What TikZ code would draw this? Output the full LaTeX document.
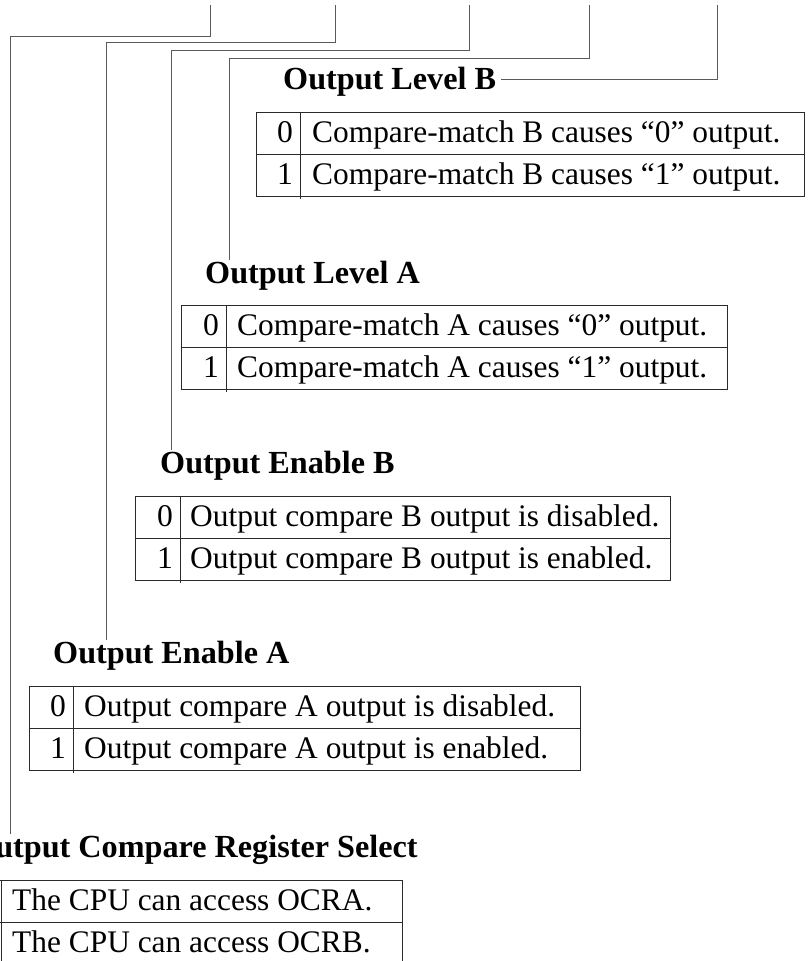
\documentclass[tikz,border=0pt]{standalone}
\usepackage{fontspec}
\setmainfont{Liberation Serif}
\usepackage{xcolor}
\usepackage{tikz}
\definecolor{regwire}{HTML}{5A5A5A}
\definecolor{regrule}{HTML}{2A2A2A}

\begin{document}
\begin{tikzpicture}[x=1pt,y=-1pt,
  wire/.style={regwire,line width=1pt},
  tblrule/.style={regrule,line width=1pt},
  fieldhead/.style={anchor=base west,inner sep=0pt,font=\fontsize{32.2}{38}\selectfont\bfseries},
  bitval/.style={anchor=base east,inner sep=0pt,font=\fontsize{31.6}{38}\selectfont},
  bitdesc/.style={anchor=base west,inner sep=0pt,font=\fontsize{31.4}{38}\selectfont}]
  \useasboundingbox (0,0) rectangle (811,961);
  \clip (0,0) rectangle (811,961);

  \node[fieldhead] (olb) at (283,89) {Output Level B};
  \draw[tblrule] (256,112) rectangle (804,196) (256,154) -- (804,154) (300,112) -- (300,199);
  \node[bitval] (lb0) at (293,142) {0};
  \node[bitdesc] (lb0t) at (312,142) {Compare-match B causes “0” output.};
  \node[bitval] (lb1) at (293,184) {1};
  \node[bitdesc] (lb1t) at (312,184) {Compare-match B causes “1” output.};

  \node[fieldhead] (ola) at (205,283) {Output Level A};
  \draw[tblrule] (181,305) rectangle (727,389) (181,347) -- (727,347) (226,305) -- (226,392);
  \node[bitval] (la0) at (219,335) {0};
  \node[bitdesc] (la0t) at (237,335) {Compare-match A causes “0” output.};
  \node[bitval] (la1) at (219,377) {1};
  \node[bitdesc] (la1t) at (237,377) {Compare-match A causes “1” output.};

  \node[fieldhead] (oeb) at (160,473) {Output Enable B};
  \draw[tblrule] (135,496) rectangle (670,580) (135,538) -- (670,538) (180,496) -- (180,583);
  \node[bitval] (eb0) at (173,526) {0};
  \node[bitdesc] (eb0t) at (190,526) {Output compare B output is disabled.};
  \node[bitval] (eb1) at (173,568) {1};
  \node[bitdesc] (eb1t) at (190,568) {Output compare B output is enabled.};

  \node[fieldhead] (oea) at (53,663) {Output Enable A};
  \draw[tblrule] (29,686) rectangle (580,770) (29,728) -- (580,728) (73,686) -- (73,773);
  \node[bitval] (ea0) at (66,716) {0};
  \node[bitdesc] (ea0t) at (84,716) {Output compare A output is disabled.};
  \node[bitval] (ea1) at (66,758) {1};
  \node[bitdesc] (ea1t) at (84,758) {Output compare A output is enabled.};

  \node[fieldhead] (ocrs) at (-30,857) {Output Compare Register Select};
  \draw[tblrule] (-44,880) rectangle (402,964) (-44,922) -- (402,922) (1,880) -- (1,964);
  \node[bitdesc] (cs0t) at (12,910) {The CPU can access OCRA.};
  \node[bitdesc] (cs1t) at (12,952) {The CPU can access OCRB.};

  \coordinate (t1) at (210,5);
  \coordinate (t2) at (335,5);
  \coordinate (t3) at (469,5);
  \coordinate (t4) at (589,5);
  \coordinate (t5) at (717,5);
  \coordinate (k1) at (10,36);
  \coordinate (k2) at (106,42);
  \coordinate (k3) at (171,50);
  \coordinate (k4) at (229,58);
  \draw[wire] (t1) |- (k1) -- (k1 |- ocrs.north);
  \draw[wire] (t2) |- (k2) -- (k2 |- oea.north);
  \draw[wire] (t3) |- (k3) -- (k3 |- oeb.north);
  \draw[wire] (t4) |- (k4) -- (k4 |- ola.north);
  \draw[wire] (t5) |- ([xshift=5pt,yshift=10pt]olb.base east);
\end{tikzpicture}
\end{document}
